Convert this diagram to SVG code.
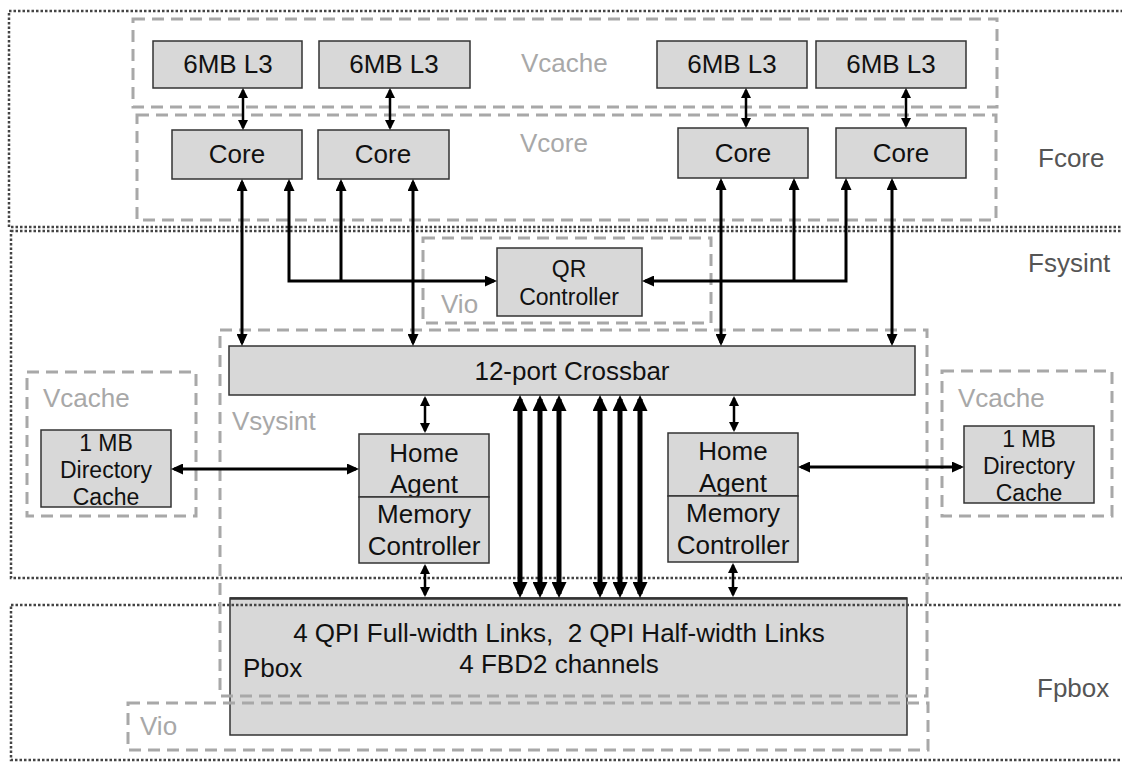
<svg xmlns="http://www.w3.org/2000/svg" width="1122" height="762" viewBox="0 0 1122 762">
<style>
text{font-family:"Liberation Sans",Arial,sans-serif;white-space:pre;}
.box{fill:#d8d8d8;stroke:#333;stroke-width:1.5;}
.t{font-size:26px;fill:#111;text-anchor:middle;}
.ts{font-size:23px;fill:#111;text-anchor:middle;}
.v{fill:none;stroke:#a8a8a8;stroke-width:3;stroke-dasharray:12 7;}
.vl{font-size:26px;fill:#a8a8a8;}
.f{fill:none;stroke:#444;stroke-width:2.5;stroke-dasharray:2.5 2;}
.fl{font-size:26px;fill:#555;}
.thin{fill:none;stroke:#000;stroke-width:2.5;}
.med{fill:none;stroke:#000;stroke-width:3;}
.thick{fill:none;stroke:#000;stroke-width:5;}
</style>
<defs>
<marker id="mt" markerUnits="userSpaceOnUse" viewBox="0 0 10 10" markerWidth="10" markerHeight="10" refX="8" refY="5" orient="auto-start-reverse"><path d="M0,0 L10,5 L0,10 z" fill="#000"/></marker>
<marker id="mm" markerUnits="userSpaceOnUse" viewBox="0 0 12 11" markerWidth="12" markerHeight="11" refX="9" refY="5.5" orient="auto-start-reverse"><path d="M0,0 L12,5.5 L0,11 z" fill="#000"/></marker>
<marker id="mk" markerUnits="userSpaceOnUse" viewBox="0 0 16 15" markerWidth="16" markerHeight="15" refX="12" refY="7.5" orient="auto-start-reverse"><path d="M0,0 L16,7.5 L0,15 z" fill="#000"/></marker>
</defs>
<rect width="1122" height="762" fill="#fff"/>

<g id="pbox">
<rect class="box" x="230" y="598" width="677" height="137"/>
<line x1="230" y1="598.5" x2="907" y2="598.5" stroke="#333" stroke-width="2.5"/>
<text class="t" x="559" y="642" xml:space="preserve">4 QPI Full-width Links,  2 QPI Half-width Links</text>
<text class="t" x="559" y="673">4 FBD2 channels</text>
<text x="243" y="677" style="font-size:26px;fill:#111">Pbox</text>
</g>

<g id="regions">
<rect class="f" x="9" y="11" width="1125" height="216"/>
<rect class="f" x="11" y="231" width="1125" height="347"/>
<rect class="f" x="11" y="605" width="1125" height="155"/>
<text class="fl" x="1038" y="167">Fcore</text>
<text class="fl" x="1028" y="272">Fsysint</text>
<text class="fl" x="1037" y="697">Fpbox</text>
<rect class="v" x="133" y="19" width="864" height="88"/>
<rect class="v" x="137" y="115" width="859" height="105"/>
<rect class="v" x="423" y="238" width="288" height="85"/>
<rect class="v" x="220" y="330" width="707" height="366"/>
<rect class="v" x="27" y="372" width="169" height="144"/>
<rect class="v" x="942" y="371" width="170" height="145"/>
<rect class="v" x="128" y="703" width="800" height="47"/>
<text class="vl" x="521" y="72">Vcache</text>
<text class="vl" x="520" y="152">Vcore</text>
<text class="vl" x="441" y="313">Vio</text>
<text class="vl" x="232" y="430">Vsysint</text>
<text class="vl" x="43" y="407">Vcache</text>
<text class="vl" x="958" y="407">Vcache</text>
<text class="vl" x="140" y="735">Vio</text>
</g>

<g id="l3-1"><rect class="box" x="153" y="41" width="149" height="47"/><text class="t" x="228" y="73">6MB L3</text></g>
<g id="l3-2"><rect class="box" x="319" y="41" width="151" height="47"/><text class="t" x="394" y="73">6MB L3</text></g>
<g id="l3-3"><rect class="box" x="657" y="41" width="150" height="47"/><text class="t" x="732" y="73">6MB L3</text></g>
<g id="l3-4"><rect class="box" x="816" y="41" width="150" height="47"/><text class="t" x="891" y="73">6MB L3</text></g>

<g id="core-1"><rect class="box" x="172" y="130" width="130" height="49"/><text class="t" x="237" y="163">Core</text></g>
<g id="core-2"><rect class="box" x="318" y="130" width="131" height="49"/><text class="t" x="383" y="163">Core</text></g>
<g id="core-3"><rect class="box" x="678" y="128" width="130" height="50"/><text class="t" x="743" y="162">Core</text></g>
<g id="core-4"><rect class="box" x="836" y="128" width="130" height="50"/><text class="t" x="901" y="162">Core</text></g>

<g id="qr"><rect class="box" x="497" y="248" width="145" height="68"/><text class="ts" x="569" y="277">QR</text><text class="ts" x="569" y="305">Controller</text></g>

<g id="crossbar"><rect class="box" x="229" y="346" width="686" height="49"/><text class="t" x="572" y="380">12-port Crossbar</text></g>

<g id="home-1">
<rect class="box" x="359" y="434" width="130" height="63"/>
<text class="t" x="424" y="462">Home</text><text class="t" x="424" y="493">Agent</text>
<rect class="box" x="359" y="497" width="130" height="66"/>
<text class="t" x="424" y="523">Memory</text><text class="t" x="424" y="555">Controller</text>
</g>
<g id="home-2">
<rect class="box" x="668" y="433" width="130" height="63"/>
<text class="t" x="733" y="460">Home</text><text class="t" x="733" y="492">Agent</text>
<rect class="box" x="668" y="496" width="130" height="66"/>
<text class="t" x="733" y="522">Memory</text><text class="t" x="733" y="554">Controller</text>
</g>

<g id="dir-1"><rect class="box" x="41" y="430" width="130" height="77"/><text class="ts" x="106" y="451">1 MB</text><text class="ts" x="106" y="478">Directory</text><text class="ts" x="106" y="505">Cache</text></g>
<g id="dir-2"><rect class="box" x="964" y="426" width="130" height="77"/><text class="ts" x="1029" y="447">1 MB</text><text class="ts" x="1029" y="474">Directory</text><text class="ts" x="1029" y="501">Cache</text></g>

<g id="connectors">
<path class="thin" d="M243,90 V128" marker-start="url(#mt)" marker-end="url(#mt)"/>
<path class="thin" d="M390,90 V128" marker-start="url(#mt)" marker-end="url(#mt)"/>
<path class="thin" d="M746,90 V126" marker-start="url(#mt)" marker-end="url(#mt)"/>
<path class="thin" d="M906,90 V126" marker-start="url(#mt)" marker-end="url(#mt)"/>
<path class="med" d="M242,182 V343" marker-start="url(#mm)" marker-end="url(#mm)"/>
<path class="med" d="M413,182 V343" marker-start="url(#mm)" marker-end="url(#mm)"/>
<path class="med" d="M721,181 V343" marker-start="url(#mm)" marker-end="url(#mm)"/>
<path class="med" d="M892,181 V343" marker-start="url(#mm)" marker-end="url(#mm)"/>
<path class="med" d="M289,182 V281 H494" marker-start="url(#mm)" marker-end="url(#mm)"/>
<path class="med" d="M341,182 V281" marker-start="url(#mm)"/>
<path class="med" d="M846,181 V281 H645" marker-start="url(#mm)" marker-end="url(#mm)"/>
<path class="med" d="M794,181 V281" marker-start="url(#mm)"/>
<path class="thin" d="M425,398 V431" marker-start="url(#mt)" marker-end="url(#mt)"/>
<path class="thin" d="M734,398 V430" marker-start="url(#mt)" marker-end="url(#mt)"/>
<path class="thin" d="M425,566 V595" marker-start="url(#mt)" marker-end="url(#mt)"/>
<path class="thin" d="M733,565 V595" marker-start="url(#mt)" marker-end="url(#mt)"/>
<path class="med" d="M174,469 H356" marker-start="url(#mm)" marker-end="url(#mm)"/>
<path class="med" d="M801,467 H961" marker-start="url(#mm)" marker-end="url(#mm)"/>
<path class="thick" d="M520,399 V594" marker-start="url(#mk)" marker-end="url(#mk)"/>
<path class="thick" d="M540,399 V594" marker-start="url(#mk)" marker-end="url(#mk)"/>
<path class="thick" d="M559,399 V594" marker-start="url(#mk)" marker-end="url(#mk)"/>
<path class="thick" d="M600,399 V594" marker-start="url(#mk)" marker-end="url(#mk)"/>
<path class="thick" d="M620,399 V594" marker-start="url(#mk)" marker-end="url(#mk)"/>
<path class="thick" d="M640,399 V594" marker-start="url(#mk)" marker-end="url(#mk)"/>
</g>
</svg>
